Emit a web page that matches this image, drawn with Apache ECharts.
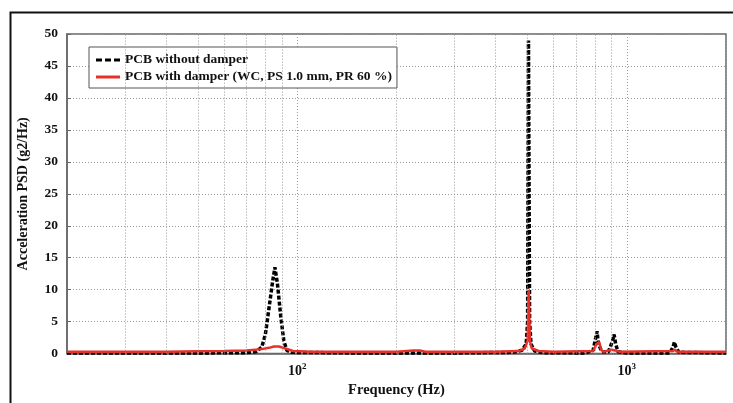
<!DOCTYPE html>
<html>
<head>
<meta charset="utf-8">
<script src="https://cdn.jsdelivr.net/npm/echarts@6/dist/echarts.min.js"></script>
<style>html,body{margin:0;padding:0;background:#fff}#c{width:733px;height:403px}</style>
</head>
<body>
<div id="c"></div>
<script>
// Frequencies (Hz) and PSD values (g2/Hz)
var freqNoDamper = [20, 30, 50, 70, 75, 78, 80, 82, 84, 85.5, 87, 89, 91, 93, 96, 150, 300, 450, 480, 495, 500, 503, 507, 512, 525, 560, 750, 790, 805, 812, 820, 840, 880, 905, 915, 925, 940, 1000, 1350, 1380, 1395, 1410, 1440, 2000];
var psdNoDamper  = [0.1, 0.1, 0.1, 0.15, 0.3, 1, 3, 7, 11, 13.5, 11, 6, 2, 0.5, 0.2, 0.1, 0.1, 0.2, 0.5, 1.5, 5, 49, 5, 1.5, 0.4, 0.15, 0.1, 0.5, 2.5, 3.5, 1.5, 0.3, 0.3, 2, 3, 1.5, 0.3, 0.1, 0.1, 1, 1.8, 1, 0.2, 0.1];

var freqDamper = [20, 30, 40, 50, 60, 70, 78, 82, 85, 88, 92, 97, 110, 200, 225, 235, 245, 400, 470, 490, 500, 504, 508, 515, 540, 600, 790, 810, 825, 835, 850, 900, 920, 950, 1380, 1400, 1420, 2000];
var psdDamper  = [0.3, 0.3, 0.3, 0.35, 0.4, 0.5, 0.7, 0.9, 1.1, 1.1, 0.8, 0.4, 0.3, 0.3, 0.5, 0.5, 0.3, 0.3, 0.4, 0.8, 2, 10, 2, 0.8, 0.4, 0.3, 0.4, 1.5, 1.8, 0.6, 0.3, 0.6, 0.5, 0.3, 0.4, 0.6, 0.3, 0.3];

var minorGridFreqs = [30, 40, 50, 60, 70, 80, 90, 200, 300, 400, 500, 600, 700, 800, 900];
var yTicks = {min: 0, max: 50, interval: 5};

function pairs(xs, ys) { return xs.map(function (x, i) { return [x, ys[i]]; }); }

var serif = '"Liberation Serif", "DejaVu Serif", serif';
var chart = echarts.init(document.getElementById('c'), null, {renderer: 'canvas'});
chart.setOption({
  animation: false,
  backgroundColor: '#fff',
  graphic: [{
    type: 'rect', left: 8, top: 10, shape: {width: 740, height: 400},
    style: {fill: 'none', stroke: '#111', lineWidth: 2}, silent: true, z: -10
  }],
  grid: {left: 67, top: 34, right: 7, bottom: 46, show: true, borderColor: '#666', borderWidth: 1.5, backgroundColor: '#fff'},
  legend: {
    orient: 'vertical', left: 89, top: 47,
    backgroundColor: '#fff', borderColor: '#555', borderWidth: 1,
    padding: [6, 5, 4, 7], itemGap: 3, itemWidth: 24, itemHeight: 3,
    textStyle: {fontFamily: serif, fontWeight: 'bold', fontSize: 13.5, color: '#111'},
    data: [
      {name: 'PCB without damper', icon: 'path://M0,0h6v3h-6zM9,0h6v3h-6zM18,0h6v3h-6z', itemStyle: {color: '#000'}},
      {name: 'PCB with damper (WC, PS 1.0 mm, PR 60 %)', icon: 'path://M0,0h24v3h-24z', itemStyle: {color: '#e8302a'}}
    ]
  },
  xAxis: {
    type: 'log', logBase: 10, min: 20, max: 2000,
    name: 'Frequency (Hz)', nameLocation: 'middle', nameGap: 26,
    nameTextStyle: {fontFamily: serif, fontWeight: 'bold', fontSize: 14.5, color: '#111'},
    axisLine: {lineStyle: {color: '#666', width: 1.5}},
    axisTick: {show: false},
    axisLabel: {
      margin: 9, color: '#111',
      formatter: function (v) {
        var e = Math.round(Math.log(v) / Math.LN10);
        if (Math.abs(Math.pow(10, e) - v) < 1e-6 && (e === 2 || e === 3)) return '10{sup|' + e + '}';
        return '';
      },
      rich: {sup: {fontFamily: serif, fontWeight: 'bold', fontSize: 9, verticalAlign: 'top', padding: [0, 0, 8, 0], color: '#111'}},
      fontFamily: serif, fontWeight: 'bold', fontSize: 14
    },
    splitLine: {show: true, lineStyle: {color: '#999', type: [1, 2], width: 1}}
  },
  yAxis: {
    type: 'value', min: yTicks.min, max: yTicks.max, interval: yTicks.interval,
    name: 'Acceleration PSD (g2/Hz)', nameLocation: 'middle', nameGap: 37,
    nameTextStyle: {fontFamily: serif, fontWeight: 'bold', fontSize: 14, color: '#111'},
    axisLine: {show: true, lineStyle: {color: '#666', width: 1.5}},
    axisTick: {show: true, inside: true, length: 4, lineStyle: {color: '#666'}},
    axisLabel: {fontFamily: serif, fontWeight: 'bold', fontSize: 13.5, color: '#111', margin: 9},
    splitLine: {show: true, lineStyle: {color: '#999', type: [1, 2], width: 1}}
  },
  series: [
    {
      name: 'minor-grid', type: 'line', data: [[20, 0]], symbol: 'none', silent: true, z: 1,
      lineStyle: {opacity: 0},
      markLine: {
        silent: true, symbol: 'none', label: {show: false}, animation: false,
        lineStyle: {color: '#999', type: [1, 2], width: 1},
        data: minorGridFreqs.map(function (f) { return {xAxis: f}; })
      }
    },
    {
      name: 'PCB without damper', type: 'line', data: pairs(freqNoDamper, psdNoDamper),
      symbol: 'none', z: 3, color: '#000',
      lineStyle: {color: '#000', width: 3.5, type: [4, 2]}
    },
    {
      name: 'PCB with damper (WC, PS 1.0 mm, PR 60 %)', type: 'line', data: pairs(freqDamper, psdDamper),
      symbol: 'none', z: 4, color: '#e8302a',
      lineStyle: {color: '#e8302a', width: 2.5}
    }
  ]
});
</script>
</body>
</html>
